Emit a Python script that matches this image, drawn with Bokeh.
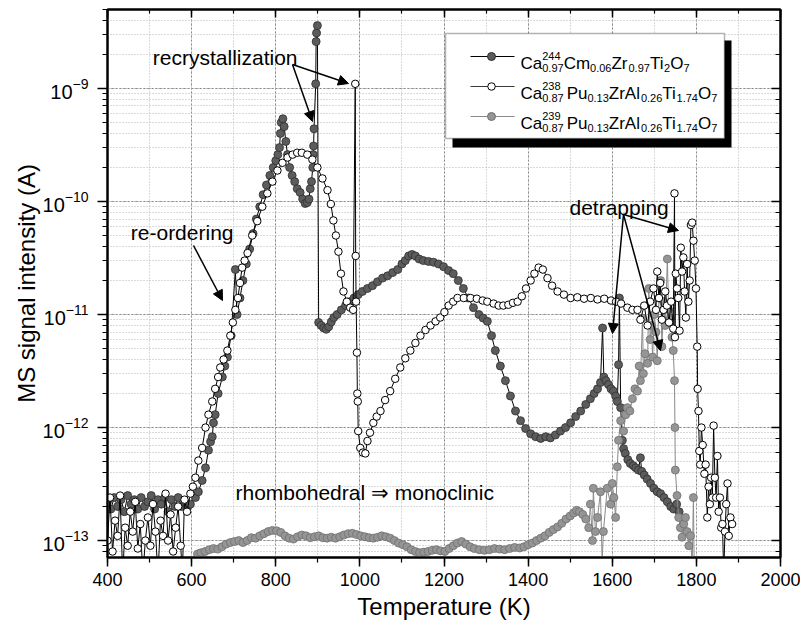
import math
from bokeh.plotting import figure
from bokeh.models import (Range1d, LinearAxis, LogAxis, SingleIntervalTicker, LogTickFormatter,
                          Label, Arrow, NormalHead, BoxAnnotation, ColumnDataSource)
from bokeh.embed import file_html
from bokeh.resources import INLINE

# ---------------- data ----------------
cm_T = [400, 408, 416, 424, 432, 440, 448, 456, 464, 472, 480, 488, 496, 504, 512, 520, 528, 536, 544, 552,
        560, 568, 576, 584, 590, 597, 609, 616, 625, 633, 640, 645, 649, 652, 656, 663, 673, 679, 685, 694,
        704, 708, 715, 722, 730, 738, 746, 754, 762, 770, 778, 786, 794, 800, 805, 809, 811, 813, 817, 820,
        824, 828, 833, 839, 845, 851, 858, 864, 870, 875, 879, 882, 885, 888, 889, 890, 891, 895, 896, 897,
        899, 902, 908, 914, 920, 926, 932, 938, 946, 956, 966, 976, 986, 996, 1006, 1018, 1030, 1042, 1054, 1066,
        1078, 1090, 1100, 1108, 1116, 1124, 1132, 1141, 1151, 1163, 1175, 1187, 1199, 1211, 1222, 1234, 1246, 1258, 1270, 1283,
        1293, 1303, 1313, 1322, 1334, 1346, 1358, 1370, 1382, 1394, 1406, 1418, 1430, 1442, 1453, 1465, 1477, 1489, 1501, 1513,
        1525, 1537, 1548, 1557, 1565, 1572, 1577, 1580, 1585, 1591, 1597, 1603, 1608, 1612, 1615, 1617, 1620, 1624, 1627, 1631,
        1637, 1643, 1650, 1656, 1662, 1667, 1670, 1676, 1683, 1691, 1699, 1707, 1715, 1723, 1731, 1739, 1746, 1753, 1759]
cm_I = [2.2e-13, 1.9e-13, 2.4e-13, 2.0e-13, 2.3e-13, 1.8e-13, 2.5e-13, 2.1e-13, 2.3e-13, 1.9e-13, 2.4e-13, 2.0e-13, 2.2e-13, 2.5e-13, 1.9e-13, 2.3e-13, 2.1e-13, 2.4e-13, 1.8e-13, 2.3e-13,
        2.0e-13, 2.4e-13, 2.0e-13, 2.2e-13, 2.0e-13, 2.1e-13, 2.4e-13, 2.7e-13, 3.4e-13, 4.4e-13, 6.3e-13, 7.5e-13, 8.3e-13, 1.1e-12, 1.3e-12, 2.0e-12, 2.8e-12, 3.5e-12, 4.2e-12, 6.5e-12,
        2.5e-11, 1.0e-11, 1.4e-11, 2.0e-11, 2.8e-11, 3.8e-11, 5.2e-11, 7.0e-11, 9.0e-11, 1.15e-10, 1.4e-10, 1.7e-10, 2.0e-10, 2.3e-10, 2.6e-10, 3.0e-10, 4.0e-10, 5.0e-10, 5.4e-10, 4.6e-10,
        3.4e-10, 2.6e-10, 2.0e-10, 1.7e-10, 1.5e-10, 1.3e-10, 1.2e-10, 1.05e-10, 9.6e-11, 9.8e-11, 1.05e-10, 1.3e-10, 1.5e-10, 2.0e-10, 2.6e-10, 3.1e-10, 4.4e-10, 1.1e-9, 2.6e-9, 3.1e-9,
        3.6e-9, 8.5e-12, 8.0e-12, 7.6e-12, 7.4e-12, 7.8e-12, 8.6e-12, 9.4e-12, 1.0e-11, 1.1e-11, 1.2e-11, 1.3e-11, 1.4e-11, 1.5e-11, 1.6e-11, 1.7e-11, 1.8e-11, 1.95e-11, 2.1e-11, 2.2e-11,
        2.35e-11, 2.5e-11, 2.8e-11, 3.0e-11, 3.3e-11, 3.4e-11, 3.3e-11, 3.1e-11, 3.0e-11, 2.95e-11, 2.9e-11, 2.8e-11, 2.65e-11, 2.45e-11, 2.3e-11, 2.0e-11, 1.7e-11, 1.4e-11, 1.15e-11, 1.0e-11,
        9.3e-12, 8.7e-12, 6.5e-12, 4.8e-12, 3.5e-12, 2.6e-12, 1.9e-12, 1.4e-12, 1.15e-12, 9.8e-13, 8.8e-13, 8.3e-13, 8.0e-13, 8.3e-13, 8.1e-13, 8.6e-13, 9.3e-13, 1.0e-12, 1.1e-12, 1.25e-12,
        1.4e-12, 1.6e-12, 1.8e-12, 2.0e-12, 2.2e-12, 2.5e-12, 7.6e-12, 2.8e-12, 2.6e-12, 2.4e-12, 2.2e-12, 2.1e-12, 1.9e-12, 1.7e-12, 3.6e-12, 1.4e-11, 1.5e-12, 7.7e-13, 6.5e-13, 5.9e-13,
        5.2e-13, 4.8e-13, 4.6e-13, 4.4e-13, 4.2e-13, 5.4e-13, 4.1e-13, 3.8e-13, 3.5e-13, 3.2e-13, 2.9e-13, 2.7e-13, 2.6e-13, 2.4e-13, 2.2e-13, 2.0e-13, 1.9e-13, 2.1e-13, 1.8e-13]

pu238_T = [400, 406, 412, 418, 424, 430, 436, 442, 448, 454, 460, 466, 472, 478, 484, 490, 496, 502, 508, 514,
           520, 526, 532, 538, 544, 550, 556, 562, 568, 574, 578, 583, 589, 597, 603, 609, 616, 625, 633, 640,
           649, 656, 663, 668, 676, 685, 692, 698, 704, 710, 715, 720, 726, 733, 744, 756, 768, 780, 792, 804,
           816, 828, 840, 851, 862, 875, 887, 899, 911, 923, 931, 937, 943, 949, 955, 961, 969, 977, 984, 989,
           990, 991, 993, 994, 995, 996, 1001, 1007, 1013, 1018, 1024, 1032, 1040, 1049, 1060, 1072, 1084, 1096, 1108, 1120,
           1132, 1144, 1156, 1168, 1180, 1191, 1201, 1211, 1222, 1232, 1247, 1263, 1278, 1292, 1303, 1318, 1330, 1341, 1353, 1364,
           1375, 1385, 1395, 1406, 1415, 1425, 1435, 1446, 1457, 1470, 1485, 1501, 1517, 1533, 1549, 1565, 1581, 1597, 1609, 1621,
           1636, 1648, 1660, 1667, 1676, 1684, 1690, 1698, 1704, 1707, 1711, 1714, 1718, 1722, 1726, 1730, 1735, 1740, 1745, 1748,
           1749, 1751, 1754, 1757, 1760, 1763, 1766, 1769, 1772, 1775, 1778, 1781, 1784, 1787, 1790, 1793, 1796, 1799, 1802, 1803,
           1805, 1807, 1809, 1812, 1815, 1819, 1822, 1826, 1829, 1832, 1835, 1838, 1841, 1844, 1847, 1850, 1853, 1856, 1859, 1862,
           1865, 1868, 1871, 1874, 1877, 1881, 1885]
pu238_I = [1.0e-13, 2.4e-13, 8e-14, 1.5e-13, 1.1e-13, 2.5e-13, 5e-14, 1.3e-13, 9e-14, 1.8e-13, 1.2e-13, 2.2e-13, 8.5e-14, 1.4e-13, 5e-14, 1.0e-13, 1.6e-13, 9e-14, 2.1e-13, 1.2e-13,
           5e-14, 1.5e-13, 1.1e-13, 2.6e-13, 1.0e-13, 1.7e-13, 8e-14, 1.3e-13, 2.0e-13, 9e-14, 5e-14, 2.3e-13, 1.8e-13, 2.6e-13, 3.0e-13, 3.6e-13, 5.1e-13, 6.6e-13, 1.0e-12, 1.3e-12,
           1.7e-12, 2.2e-12, 2.8e-12, 3.4e-12, 4.0e-12, 4.8e-12, 6.5e-12, 8.5e-12, 1.1e-11, 1.4e-11, 1.9e-11, 2.6e-11, 3.0e-11, 3.5e-11, 5.0e-11, 6.7e-11, 9.0e-11, 1.18e-10, 1.5e-10, 1.88e-10,
           2.2e-10, 2.45e-10, 2.6e-10, 2.7e-10, 2.7e-10, 2.6e-10, 2.35e-10, 2.0e-10, 1.6e-10, 1.26e-10, 9.5e-11, 6.8e-11, 5.0e-11, 3.6e-11, 2.3e-11, 1.6e-11, 1.3e-11, 1.15e-11, 1.1e-11, 1.1e-9,
           3.3e-11, 1.3e-11, 4.6e-12, 2.0e-12, 1.7e-12, 9.3e-13, 6.6e-13, 6.0e-13, 5.9e-13, 7.6e-13, 9.0e-13, 1.1e-12, 1.25e-12, 1.4e-12, 1.75e-12, 2.1e-12, 2.7e-12, 3.4e-12, 4.1e-12, 4.8e-12,
           5.6e-12, 6.5e-12, 7.3e-12, 8.0e-12, 8.7e-12, 9.4e-12, 1.05e-11, 1.2e-11, 1.3e-11, 1.4e-11, 1.4e-11, 1.4e-11, 1.38e-11, 1.33e-11, 1.3e-11, 1.25e-11, 1.2e-11, 1.2e-11, 1.22e-11, 1.27e-11,
           1.3e-11, 1.45e-11, 1.7e-11, 2.0e-11, 2.3e-11, 2.6e-11, 2.5e-11, 2.1e-11, 1.8e-11, 1.6e-11, 1.5e-11, 1.4e-11, 1.42e-11, 1.38e-11, 1.4e-11, 1.36e-11, 1.38e-11, 1.33e-11, 1.3e-11, 1.25e-11,
           1.15e-11, 1.1e-11, 1.1e-11, 9.0e-12, 1.2e-11, 8.0e-12, 1.3e-11, 1.7e-11, 1.1e-11, 2.4e-11, 1.4e-11, 1.9e-11, 9.0e-12, 1.1e-11, 1.6e-11, 1.2e-11, 8.5e-12, 1.3e-11, 7.5e-12, 1.18e-10,
           6.3e-12, 2.3e-11, 1.7e-11, 1.4e-11, 7.2e-12, 3.9e-11, 2.4e-11, 3.2e-11, 1.6e-11, 9.4e-12, 2.8e-11, 1.3e-11, 2.0e-11, 6.2e-11, 6.5e-11, 4.5e-11, 3.0e-11, 1.7e-11, 5.2e-12, 2.2e-12,
           1.4e-12, 6.2e-13, 4.7e-13, 1.0e-12, 7.0e-13, 3.9e-13, 4.7e-13, 1.6e-13, 3.0e-13, 2.1e-13, 3.6e-13, 2.4e-13, 1.04e-12, 3.6e-13, 2.4e-13, 5.6e-13, 1.8e-13, 2.4e-13, 1.3e-13, 1.4e-13,
           5e-14, 1.2e-13, 2.1e-13, 3.2e-13, 1.1e-13, 1.6e-13, 1.4e-13]

pu239_T = [614, 622, 632, 642, 652, 662, 672, 682, 692, 702, 712, 722, 732, 742, 752, 762, 772, 782, 792, 802,
           812, 822, 832, 842, 852, 862, 872, 882, 892, 902, 912, 922, 932, 942, 952, 962, 972, 982, 992, 1002,
           1012, 1022, 1032, 1042, 1052, 1062, 1072, 1082, 1092, 1102, 1112, 1122, 1132, 1142, 1152, 1162, 1172, 1182, 1192, 1202,
           1212, 1222, 1232, 1242, 1252, 1262, 1272, 1284, 1296, 1308, 1320, 1332, 1344, 1356, 1368, 1380, 1390, 1400, 1410, 1420,
           1430, 1440, 1450, 1460, 1470, 1480, 1490, 1500, 1508, 1515, 1522, 1530, 1537, 1544, 1548, 1553, 1555, 1560, 1565, 1572,
           1576, 1579, 1588, 1596, 1600, 1604, 1608, 1612, 1615, 1620, 1627, 1632, 1636, 1642, 1648, 1654, 1660, 1664, 1667, 1672,
           1674, 1678, 1684, 1687, 1690, 1693, 1696, 1700, 1704, 1707, 1711, 1715, 1718, 1722, 1726, 1731, 1734, 1738, 1742, 1745,
           1748, 1749, 1750, 1754, 1758, 1762, 1766, 1770, 1774, 1778, 1782, 1786, 1790, 1793, 1795]
pu239_I = [7.6e-14, 7.8e-14, 8.0e-14, 8.3e-14, 8.5e-14, 8.4e-14, 8.8e-14, 9.3e-14, 9.6e-14, 9.8e-14, 1.0e-13, 9.6e-14, 1.0e-13, 1.06e-13, 1.05e-13, 1.1e-13, 1.15e-13, 1.2e-13, 1.23e-13, 1.22e-13,
           1.18e-13, 1.1e-13, 1.05e-13, 1.03e-13, 1.08e-13, 1.12e-13, 1.1e-13, 1.06e-13, 1.08e-13, 1.1e-13, 1.06e-13, 1.05e-13, 1.07e-13, 1.05e-13, 1.08e-13, 1.12e-13, 1.15e-13, 1.16e-13, 1.13e-13, 1.1e-13,
           1.08e-13, 1.06e-13, 1.05e-13, 1.07e-13, 1.1e-13, 1.08e-13, 1.05e-13, 1.0e-13, 9.5e-14, 9.2e-14, 8.8e-14, 8.3e-14, 8.0e-14, 7.8e-14, 7.9e-14, 8.0e-14, 8.2e-14, 8.3e-14, 8.1e-14, 8.0e-14,
           8.5e-14, 9.0e-14, 9.5e-14, 9.8e-14, 9.3e-14, 8.8e-14, 8.5e-14, 8.3e-14, 8.2e-14, 8.3e-14, 8.5e-14, 8.4e-14, 8.3e-14, 8.5e-14, 8.7e-14, 8.6e-14, 8.8e-14, 9.2e-14, 9.5e-14, 1.0e-13,
           1.05e-13, 1.1e-13, 1.18e-13, 1.25e-13, 1.32e-13, 1.42e-13, 1.55e-13, 1.65e-13, 1.75e-13, 1.85e-13, 1.8e-13, 1.7e-13, 1.55e-13, 1.3e-13, 2.1e-13, 1.0e-13, 2.9e-13, 1.2e-13, 1.6e-13, 2.7e-13,
           6.5e-14, 1.2e-13, 2.9e-13, 2.1e-13, 3.2e-13, 2.4e-13, 1.6e-13, 4.5e-13, 7.7e-13, 1.15e-12, 9.3e-13, 1.3e-12, 1.5e-12, 1.4e-12, 1.8e-12, 2.2e-12, 2.1e-12, 3.5e-12, 2.6e-12, 9.3e-12,
           3.0e-12, 4.5e-12, 3.7e-12, 1.7e-11, 6.0e-12, 8.0e-12, 4.2e-12, 1.0e-11, 7.0e-12, 3.9e-12, 1.4e-11, 2.0e-11, 5.2e-12, 1.3e-11, 8.0e-12, 3.1e-11, 1.1e-11, 9.3e-12, 6.3e-12, 4.8e-12,
           2.6e-12, 1.0e-12, 4.2e-13, 2.5e-13, 1.6e-13, 1.3e-13, 1.07e-13, 1.4e-13, 1.6e-13, 1.2e-13, 9.0e-14, 1.1e-13, 6.0e-14, 2.4e-13, 5.0e-14]

X_RANGE = (400, 2000)
Y_RANGE = (7.08e-14, 5.0e-9)

# ---------------- layout ----------------
FONT = "Liberation Sans"
W, H = 800, 624
FL, FT, FR, FB = 107, 9, 780, 557          # frame edges inside the canvas (= picture pixels)

def px_x(px):
    """picture pixel x -> data x"""
    return X_RANGE[0] + (px - FL) / (FR - FL) * (X_RANGE[1] - X_RANGE[0])

def py_y(py):
    """picture pixel y -> data y (log axis)"""
    l0, l1 = math.log10(Y_RANGE[0]), math.log10(Y_RANGE[1])
    return 10 ** (l1 - (py - FT) / (FB - FT) * (l1 - l0))

p = figure(width=W, height=H, x_range=Range1d(*X_RANGE), y_range=Range1d(*Y_RANGE),
           y_axis_type="log", output_backend="svg", toolbar_location=None,
           min_border_left=FL, min_border_top=FT, min_border_right=W - FR, min_border_bottom=H - FB)
p.background_fill_color = "white"
p.border_fill_color = "white"
p.outline_line_color = "black"
p.outline_line_width = 2

xticker = SingleIntervalTicker(interval=200, num_minor_ticks=2)
p.xaxis.ticker = xticker
p.xgrid.ticker = xticker
p.yaxis.formatter = LogTickFormatter()

for ax in (p.xaxis[0], p.yaxis[0]):
    ax.axis_line_width = 2
    ax.major_tick_line_width = 1.5
    ax.minor_tick_line_width = 1.2
    ax.major_tick_in = 0
    ax.minor_tick_in = 0
    ax.major_label_text_font = FONT
    ax.major_label_text_font_size = "18px"
    ax.major_label_text_color = "black"
    ax.axis_label_text_font = FONT
    ax.axis_label_text_font_size = "24px"
    ax.axis_label_text_font_style = "normal"
    ax.axis_label_text_color = "black"

p.xaxis.major_tick_out = 9
p.xaxis.minor_tick_out = 5
p.xaxis.major_label_standoff = 6
p.xaxis.axis_label = "Temperature (K)"
p.xaxis.axis_label_standoff = 4

p.yaxis.major_tick_out = 10
p.yaxis.minor_tick_out = 5
p.yaxis.major_label_standoff = 9
p.yaxis.major_label_text_font_size = "20px"
p.yaxis.axis_label = "MS signal intensity (A)"
p.yaxis.axis_label_standoff = 0

top = LinearAxis(ticker=xticker, major_tick_in=8, major_tick_out=0, minor_tick_in=4, minor_tick_out=0,
                 major_label_text_font_size="1px", major_label_text_color=None, major_label_standoff=0,
                 axis_line_width=2, major_tick_line_width=1.5, minor_tick_line_width=1.2)
right = LogAxis(major_tick_in=9, major_tick_out=0, minor_tick_in=5, minor_tick_out=0,
                major_label_text_font_size="1px", major_label_text_color=None, major_label_standoff=0,
                axis_line_width=2, major_tick_line_width=1.5, minor_tick_line_width=1.2)
p.add_layout(top, "above")
p.add_layout(right, "right")

for g in (p.xgrid[0], p.ygrid[0]):
    g.grid_line_color = "#8c8c8c"
    g.grid_line_dash = "2 2"
    g.grid_line_width = 1
    g.minor_grid_line_color = "#b4b4b4"
    g.minor_grid_line_dash = "1 2"
    g.minor_grid_line_width = 1

# ---------------- series ----------------
s_cm = ColumnDataSource(dict(T=cm_T, I=cm_I))
s_238 = ColumnDataSource(dict(T=pu238_T, I=pu238_I))
s_239 = ColumnDataSource(dict(T=pu239_T, I=pu239_I))

DARK_FILL, DARK_EDGE = "#5c5c5c", "#2e2e2e"
GREY_FILL, GREY_EDGE, GREY_LINE = "#959595", "#707070", "#8a8a8a"

p.line("T", "I", source=s_cm, line_color="black", line_width=1)
p.scatter("T", "I", source=s_cm, size=8, fill_color=DARK_FILL, line_color=DARK_EDGE, line_width=0.8)
p.line("T", "I", source=s_239, line_color=GREY_LINE, line_width=1)
p.scatter("T", "I", source=s_239, size=8, fill_color=GREY_FILL, line_color=GREY_EDGE, line_width=0.8)
p.line("T", "I", source=s_238, line_color="black", line_width=1)
p.scatter("T", "I", source=s_238, size=7.5, fill_color="white", line_color="black", line_width=1)

# ---------------- annotations ----------------
ANN = "21px"
def label(txt, px, py, size=ANN, align="left"):
    p.add_layout(Label(x=px_x(px), y=py_y(py), text=txt, text_font=FONT, text_font_size=size,
                       text_align=align, text_baseline="alphabetic", text_color="black"))

def arrow(p0, p1):
    p.add_layout(Arrow(end=NormalHead(size=10, fill_color="black", line_color="black"),
                       x_start=px_x(p0[0]), y_start=py_y(p0[1]), x_end=px_x(p1[0]), y_end=py_y(p1[1]),
                       line_color="black", line_width=1.5))

label("recrystallization", 297, 57, align="right")
arrow((292, 64), (312, 121))
arrow((292, 64), (348, 83))
label("re-ordering", 233, 232, align="right")
arrow((193, 245), (222, 300))
label("detrapping", 569, 207)
arrow((623, 214), (612, 333))
arrow((623, 214), (660, 350))
arrow((623, 214), (678, 230))
label("rhombohedral \u21d2 monoclinic", 235, 492)

# ---------------- legend (drawn by hand: sub/superscripts) ----------------
p.add_layout(BoxAnnotation(left=px_x(452), right=px_x(731), top=py_y(40), bottom=py_y(147),
                           fill_color="black", fill_alpha=1, line_alpha=0))
p.add_layout(BoxAnnotation(left=px_x(445), right=px_x(724), top=py_y(33), bottom=py_y(138),
                           fill_color="white", fill_alpha=1, line_color="black", line_width=1.5))

CW = {'C': 722, 'a': 556, 'm': 833, 'Z': 667, 'r': 333, 'T': 611, 'i': 222, 'O': 778, 'P': 667,
      'u': 556, 'A': 667, 'l': 222, '.': 278, ' ': 278, '-': 333}
for d in "0123456789":
    CW[d] = 556

def tw(s, size):
    return sum(CW[c] for c in s) / 1000.0 * size

BIG, SMALL = 17, 11
# (main text, superscript, subscript, gap before main text in px)
leg_rows = [
    [("Ca", "244", "0.97", 0), ("Cm", None, "0.06", 0), ("Zr", None, "0.97", 0), ("Ti", None, "2", 0), ("O", None, "7", 0)],
    [("Ca", "238", "0.87", 0), ("Pu", None, "0.13", 3), ("ZrAl", None, "0.26", 0), ("Ti", None, "1.74", 0), ("O", None, "7", 0)],
    [("Ca", "239", "0.87", 0), ("Pu", None, "0.13", 3), ("ZrAl", None, "0.26", 0), ("Ti", None, "1.74", 0), ("O", None, "7", 0)],
]
leg_marker_y = [56, 86, 116]
leg_styles = [
    dict(line="black", fill=DARK_FILL, edge=DARK_EDGE, size=8),
    dict(line="#3a3a3a", fill="white", edge="black", size=7.5),
    dict(line=GREY_LINE, fill=GREY_FILL, edge=GREY_EDGE, size=8),
]
for row, my, st in zip(leg_rows, leg_marker_y, leg_styles):
    p.line([px_x(470), px_x(514)], [py_y(my), py_y(my)], line_color=st["line"], line_width=1.2, level="overlay")
    p.scatter([px_x(491)], [py_y(my)], size=st["size"], fill_color=st["fill"], line_color=st["edge"],
              line_width=1, level="overlay")
    base = my + 7
    x = 520.0
    for big, sup, sub, gap in row:
        x += gap
        label(big, x, base, size=f"{BIG}px")
        x += tw(big, BIG)
        adv = 0
        if sup:
            label(sup, x, base - 8, size=f"{SMALL}px")
            adv = tw(sup, SMALL)
        if sub:
            label(sub, x, base + 4, size=f"{SMALL}px")
            adv = max(adv, tw(sub, SMALL))
        x += adv

open("out.html", "w").write(file_html(p, INLINE))
